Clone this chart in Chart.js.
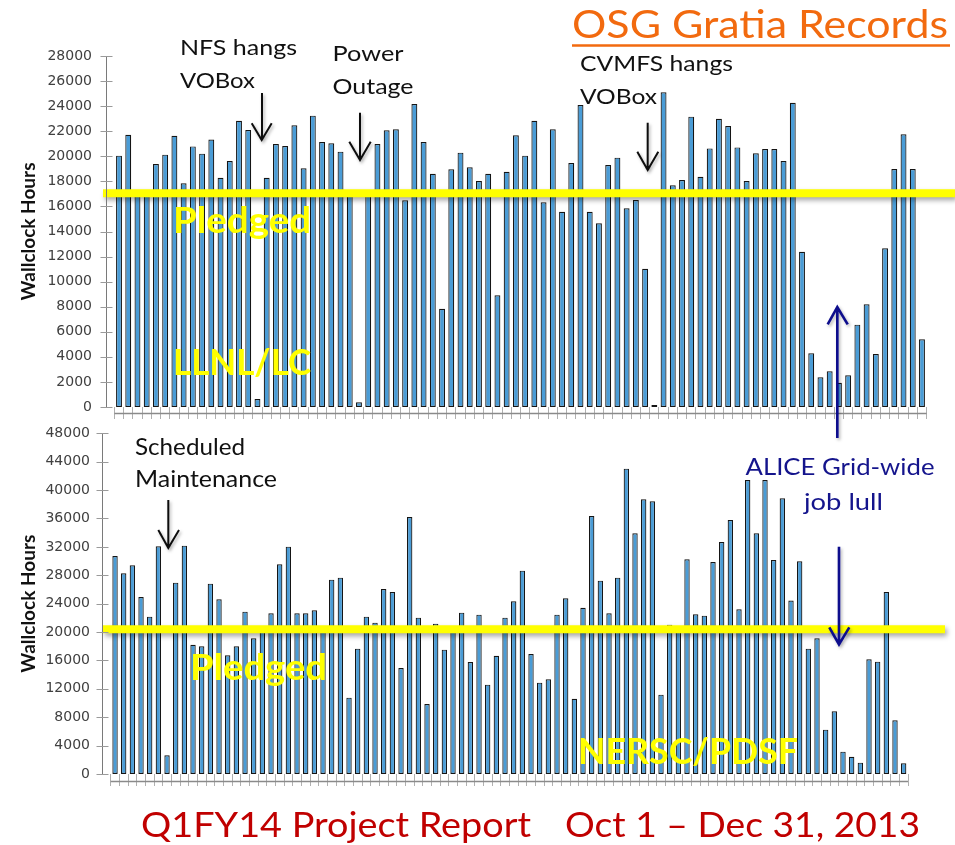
<!DOCTYPE html>
<html>
<head>
    <meta charset="utf-8" />
    <title>OSG Gratia Records</title>
    <script src="https://cdn.jsdelivr.net/npm/chart.js"></script>
    <style>
        body { margin: 0; background: #fff; }
        #page { position: relative; width: 955px; height: 845px; overflow: hidden; }
        #page canvas, #page svg { position: absolute; left: 0; top: 0; }
        svg text { font-family: Lato, "Open Sans", sans-serif; }
    </style>
</head>
<body>
<div id="page">
    <canvas id="topChart" width="955" height="845"></canvas>
    <canvas id="bottomChart" width="955" height="845"></canvas>

    <!-- annotations -->
    <svg width="955" height="845">
        <defs>
            <filter id="sh" x="-50%" y="-50%" width="200%" height="200%">
                <feDropShadow dx="1.5" dy="2" stdDeviation="1.5" flood-color="#000" flood-opacity="0.3"/>
            </filter>
        </defs>

        <text x="572" y="38" font-size="38" fill="#f26a0f" textLength="376" lengthAdjust="spacingAndGlyphs">OSG Gratia Records</text>
        <line x1="572" y1="45.5" x2="950" y2="45.5" stroke="#f26a0f" stroke-width="2.4"/>

        <g fill="#111" font-size="22">
            <text x="180" y="55" textLength="117" lengthAdjust="spacingAndGlyphs">NFS hangs</text>
            <text x="180" y="88" textLength="75" lengthAdjust="spacingAndGlyphs">VOBox</text>
            <text x="332.5" y="60.5" textLength="71" lengthAdjust="spacingAndGlyphs">Power</text>
            <text x="332.5" y="93.5" textLength="81" lengthAdjust="spacingAndGlyphs">Outage</text>
            <text x="580" y="70.5" textLength="153" lengthAdjust="spacingAndGlyphs">CVMFS hangs</text>
            <text x="580" y="103.5" textLength="77" lengthAdjust="spacingAndGlyphs">VOBox</text>
            <text x="135" y="455" font-size="23" textLength="110" lengthAdjust="spacingAndGlyphs">Scheduled</text>
            <text x="135" y="486.5" font-size="23" textLength="142" lengthAdjust="spacingAndGlyphs">Maintenance</text>
        </g>

        <g fill="none" stroke="#111" stroke-width="2" filter="url(#sh)">
            <path d="M262 93 V140 M251.7 123.3 L261.7 140 L271.7 123.3"/>
            <path d="M360 112.7 V160 M349.3 141.7 L360 160 L370.7 141.7"/>
            <path d="M647.7 122.7 V170 M637.3 151.7 L647.7 170 L658.3 151.7"/>
            <path d="M168.3 500 V548 M158.3 530 L168.3 548 L179 530"/>
        </g>

        <g fill="none" stroke="#0b0b8c" stroke-width="2.6" filter="url(#sh)">
            <path d="M837.3 438 V307 M827.7 324.3 L837.3 307 L847.7 324.3"/>
            <path d="M839 546.7 V644.5 M829.3 627.3 L839 644.5 L849.3 627.3"/>
        </g>
        <g fill="#14148c" font-size="24">
            <text x="745.5" y="475" textLength="189" lengthAdjust="spacingAndGlyphs">ALICE Grid-wide</text>
            <text x="804" y="510" textLength="79" lengthAdjust="spacingAndGlyphs">job lull</text>
        </g>

        <g fill="#ffff00" font-size="37" font-weight="bold">
            <text x="173" y="233.3" textLength="138" lengthAdjust="spacingAndGlyphs">Pledged</text>
            <text x="173" y="375" textLength="138" lengthAdjust="spacingAndGlyphs">LLNL/LC</text>
            <text x="190" y="680" textLength="137" lengthAdjust="spacingAndGlyphs">Pledged</text>
            <text x="578" y="764" textLength="220" lengthAdjust="spacingAndGlyphs">NERSC/PDSF</text>
        </g>

        <g fill="#c00000" font-size="35">
            <text x="141" y="837" textLength="390" lengthAdjust="spacingAndGlyphs">Q1FY14 Project Report</text>
            <text x="565" y="837" textLength="355" lengthAdjust="spacingAndGlyphs">Oct 1 – Dec 31, 2013</text>
        </g>
    </svg>
</div>

<script>
    // 축 눈금
    const topTicks = [0, 2000, 4000, 6000, 8000, 10000, 12000, 14000, 16000, 18000, 20000, 22000, 24000, 26000, 28000];
    const bottomTicks = [0, 4000, 8000, 12000, 16000, 20000, 24000, 28000, 32000, 36000, 40000, 44000, 48000];

    // pledged 수준
    const topPledged = 17050;
    const bottomPledged = 20400;

    // LLNL/LC 일별 wallclock hours
    const llnlHours = [
        20050, 21720, 16900, 16900, 19380, 20130, 21640, 17840, 20790, 20210,
        21330, 18290, 19620, 22840, 22100, 640, 18290, 20980, 20820, 22470,
        19040, 23240, 21140, 21030, 20370, 16900, 370, 16900, 20980, 22070,
        22150, 16490, 24170, 21140, 18610, 7840, 18960, 20290, 19120, 18030,
        18610, 8910, 18770, 21670, 20050, 22840, 16330, 22150, 15580, 19460,
        24090, 15580, 14650, 19300, 19890, 15850, 16510, 11030, 150, 25100,
        17680, 18100, 23160, 18370, 20630, 23000, 22410, 20710, 18030, 20240,
        20580, 20580, 19620, 24270, 12390, 4280, 2370, 2850, 1940, 2530,
        6570, 8190, 4230, 12660, 18990, 21750, 18990, 5400
    ];

    // NERSC/PDSF 일별 wallclock hours
    const nerscHours = [
        30720, 28270, 29400, 24940, 22170, 32080, 2630, 26960, 32170, 18220,
        17990, 26820, 24610, 16720, 17990, 22870, 19120, 20300, 22640, 29550,
        32030, 22640, 22640, 23070, 20300, 27380, 27660, 10760, 17660, 22170,
        21320, 26070, 25640, 14940, 36210, 22030, 9860, 21180, 17520, 20300,
        22730, 15780, 22450, 12590, 16670, 22030, 24330, 28650, 16910, 12870,
        13340, 22450, 24750, 10610, 23430, 36350, 27240, 22640, 27660, 43020,
        33910, 38700, 38420, 11180, 21040, 20300, 30250, 22500, 22310, 29870,
        32690, 35790, 23200, 41420, 33910, 41420, 30150, 38840, 24430, 29970,
        17660, 19120, 6250, 8830, 3150, 2440, 1600, 16160, 15830, 25640,
        7570, 1500
    ];

    // 날짜 (Oct 1 – Dec 31)
    const days = [];
    [[10, 31], [11, 30], [12, 31]].forEach(([m, n]) => {
        for (let d = 1; d <= n; d++) days.push(m + '/' + d);
    });

    // 축 선 (y축은 막대에서 조금 떨어져 있음)
    const axisDecor = {
        id: 'axisDecor',
        afterDraw(chart, args, opts) {
            const { ctx, chartArea } = chart;
            const ys = chart.scales.y;
            const ax = Math.round(chartArea.left - opts.gap) + 0.5;
            ctx.save();
            ctx.lineWidth = 1;
            ctx.strokeStyle = '#7a7a7a';
            ctx.beginPath();
            ctx.moveTo(ax, chartArea.top);
            ctx.lineTo(ax, chartArea.bottom);
            ctx.stroke();
            ctx.strokeStyle = '#9a9a9a';
            ctx.beginPath();
            ys.ticks.forEach(t => {
                const y = Math.round(ys.getPixelForValue(t.value)) + 0.5;
                ctx.moveTo(ax - 6, y);
                ctx.lineTo(ax + 6, y);
            });
            ctx.stroke();
            const by = Math.round(chartArea.bottom + opts.drop) + 0.5;
            ctx.strokeStyle = '#8a8a8a';
            ctx.lineWidth = 1.5;
            ctx.beginPath();
            ctx.moveTo(chartArea.left, by);
            ctx.lineTo(chartArea.right, by);
            ctx.stroke();
            ctx.restore();
        }
    };

    // 노란 pledged 선
    const pledgedLine = {
        id: 'pledgedLine',
        afterDatasetsDraw(chart, args, opts) {
            const { ctx } = chart;
            const y = chart.scales.y.getPixelForValue(opts.value);
            ctx.save();
            ctx.shadowColor = 'rgba(0,0,0,0.35)';
            ctx.shadowBlur = 5;
            ctx.shadowOffsetX = 2;
            ctx.shadowOffsetY = 3;
            ctx.strokeStyle = '#ffff00';
            ctx.lineWidth = 8;
            ctx.beginPath();
            ctx.moveTo(opts.from, y);
            ctx.lineTo(opts.to, y);
            ctx.stroke();
            ctx.restore();
        }
    };

    function makeChart(id, labels, values, ticks, pledged, box) {
        return new Chart(document.getElementById(id), {
            type: 'bar',
            data: {
                labels: labels,
                datasets: [{
                    data: values,
                    backgroundColor: '#4a9cd6',
                    borderColor: '#151515',
                    borderWidth: 1.2,
                    borderSkipped: false,
                    barPercentage: box.bar,
                    categoryPercentage: 1
                }]
            },
            options: {
                responsive: false,
                animation: false,
                devicePixelRatio: 1,
                layout: {
                    padding: { left: 0, top: box.top, right: 955 - box.right, bottom: 845 - box.bottom - 13 }
                },
                scales: {
                    x: {
                        afterFit: s => { s.height = 13; },
                        ticks: { display: false },
                        border: { display: false },
                        grid: { drawOnChartArea: false, tickLength: 12, color: '#b0b0b0', offset: true }
                    },
                    y: {
                        min: 0,
                        max: ticks[ticks.length - 1],
                        afterFit: s => { s.width = box.left; },
                        afterBuildTicks: s => { s.ticks = ticks.map(v => ({ value: v })); },
                        border: { display: false },
                        grid: { display: false, drawTicks: false },
                        ticks: {
                            callback: v => String(v),
                            font: { family: 'DejaVu Sans', size: 14 },
                            color: '#404040',
                            padding: box.labelPad
                        },
                        title: {
                            display: true,
                            text: 'Wallclock Hours',
                            font: { family: 'Lato', weight: 'bold', size: 19 },
                            color: '#111',
                            padding: { top: 17.5, bottom: 0 }
                        }
                    }
                },
                plugins: {
                    legend: { display: false },
                    tooltip: { enabled: false },
                    axisDecor: { gap: box.gap, drop: box.drop },
                    pledgedLine: { value: pledged, from: 103, to: box.lineEnd }
                }
            },
            plugins: [axisDecor, pledgedLine]
        });
    }

    makeChart('topChart', days.slice(0, llnlHours.length), llnlHours, topTicks, topPledged,
        { left: 114.4, right: 926.6, top: 56, bottom: 407, gap: 8.5, drop: 6, labelPad: 22.4, lineEnd: 955, bar: 0.64 });

    makeChart('bottomChart', days.slice(0, nerscHours.length), nerscHours, bottomTicks, bottomPledged,
        { left: 110.7, right: 908, top: 433.3, bottom: 774, gap: 9, drop: 6.5, labelPad: 20.7, lineEnd: 945, bar: 0.62 });
</script>
</body>
</html>
